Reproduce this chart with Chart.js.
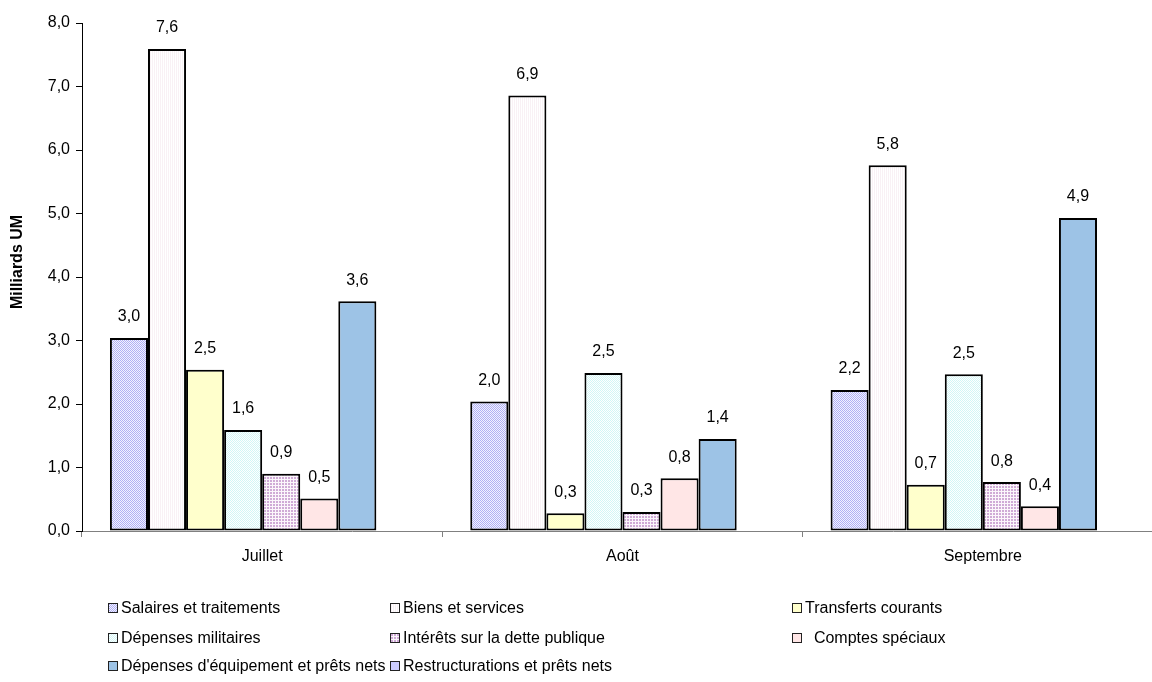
<!DOCTYPE html>
<html>
<head>
<meta charset="utf-8">
<script src="https://cdn.jsdelivr.net/npm/chart.js@4"></script>
<style>
  html, body { margin: 0; padding: 0; background: #fff; overflow: hidden; }
  #wrap { position: relative; width: 1152px; height: 682px; overflow: hidden; }
  #chart { position: absolute; left: 0; top: 0; }
  .lg-item { position: absolute; display: flex; align-items: center; font: 16px "Liberation Sans", Arial, sans-serif; color: #000; white-space: pre; }
  .lg-box { width: 8px; height: 8px; border: 1.5px solid #222; margin-right: 3px; }
</style>
</head>
<body>
<div id="wrap">
  <canvas id="chart" width="1163" height="682"></canvas>
  <div id="legend"></div>
</div>
<script>
const categories = ['Juillet', 'Août', 'Septembre'];
const salaires = [3.04, 2.04, 2.22];
const biens = [7.59, 6.86, 5.76];
const transferts = [2.54, 0.28, 0.73];
const militaires = [1.59, 2.49, 2.47];
const interets = [0.9, 0.3, 0.77];
const comptes = [0.51, 0.83, 0.39];
const equipement = [3.62, 1.45, 4.93];
const restructurations = [null, null, null];

const legendCols = [108, 390, 792];
const legendRows = [609, 639, 667];
const FONT = '"Liberation Sans", Arial, sans-serif';

function makePattern(size, draw) {
  const c = document.createElement('canvas');
  c.width = size; c.height = size;
  const g = c.getContext('2d');
  draw(g);
  return c;
}

const tiles = {
  salaires: makePattern(2, g => {
    g.fillStyle = '#f2f2ff'; g.fillRect(0, 0, 2, 2);
    g.fillStyle = '#b0b0f4'; g.fillRect(0, 0, 1, 1); g.fillRect(1, 1, 1, 1);
  }),
  biens: makePattern(2, g => {
    g.fillStyle = '#ffffff'; g.fillRect(0, 0, 2, 2);
    g.fillStyle = '#f9f1f5'; g.fillRect(0, 0, 1, 2);
  }),
  militaires: makePattern(2, g => {
    g.fillStyle = '#ffffff'; g.fillRect(0, 0, 2, 2);
    g.fillStyle = '#d2f6f6'; g.fillRect(0, 0, 1, 1); g.fillRect(1, 1, 1, 1);
  }),
  interets: makePattern(3, g => {
    g.fillStyle = '#fbf6fb'; g.fillRect(0, 0, 3, 3);
    g.fillStyle = '#cfaad6'; g.fillRect(0, 0, 2, 2);
  })
};

const ctx = document.getElementById('chart').getContext('2d');
const pat = key => ctx.createPattern(tiles[key], 'repeat');

const datasets = [
  { label: 'Salaires et traitements', data: salaires, backgroundColor: pat('salaires'), swatch: tiles.salaires },
  { label: 'Biens et services', data: biens, backgroundColor: pat('biens'), swatch: tiles.biens },
  { label: 'Transferts courants', data: transferts, backgroundColor: '#ffffcc' },
  { label: 'Dépenses militaires', data: militaires, backgroundColor: pat('militaires'), swatch: tiles.militaires },
  { label: 'Intérêts sur la dette publique', data: interets, backgroundColor: pat('interets'), swatch: tiles.interets },
  { label: '  Comptes spéciaux', data: comptes, backgroundColor: '#ffe6e6' },
  { label: "Dépenses d'équipement et prêts nets", data: equipement, backgroundColor: '#9dc3e6' },
  { label: 'Restructurations et prêts nets', data: restructurations, backgroundColor: '#ccccff' }
].map(d => Object.assign(d, { borderColor: '#000', borderWidth: 2, borderSkipped: false }));

// value labels above bars + y axis title
const valueLabels = {
  id: 'valueLabels',
  afterDatasetsDraw(chart) {
    const c = chart.ctx;
    c.save();
    c.font = '16px ' + FONT;
    c.fillStyle = '#000';
    c.textAlign = 'center';
    c.textBaseline = 'middle';
    chart.data.datasets.forEach((ds, i) => {
      chart.getDatasetMeta(i).data.forEach((bar, j) => {
        const v = ds.data[j];
        if (v == null) return;
        c.fillText(v.toFixed(1).replace('.', ','), bar.x, bar.y - 21);
      });
    });
    c.translate(18, 262);
    c.rotate(-Math.PI / 2);
    c.font = 'bold 16px ' + FONT;
    c.fillText('Milliards UM', 0, 0);
    c.restore();
  }
};

const chart = new Chart(ctx, {
  type: 'bar',
  data: { labels: categories, datasets: datasets },
  options: {
    responsive: false,
    animation: false,
    devicePixelRatio: 1,
    layout: { padding: { top: 23, right: 0, left: 0, bottom: 0 } },
    datasets: { bar: { categoryPercentage: 0.845, barPercentage: 1 } },
    plugins: { legend: { display: false }, tooltip: { enabled: false } },
    scales: {
      x: {
        grid: { offset: true, drawOnChartArea: false, drawTicks: true, tickLength: 6, color: '#808080' },
        border: { color: '#808080', width: 1 },
        ticks: { color: '#000', padding: 10, font: { family: FONT, size: 16 } },
        afterFit(s) { s.height = 151; }
      },
      y: {
        min: 0, max: 8,
        ticks: {
          stepSize: 1, color: '#000', padding: 6,
          font: { family: FONT, size: 16 },
          callback: v => v.toFixed(1).replace('.', ',')
        },
        grid: { drawOnChartArea: false, drawTicks: true, tickLength: 6, color: '#000' },
        border: { color: '#000', width: 1 },
        afterFit(s) { s.width = 82; }
      }
    }
  },
  plugins: [valueLabels]
});

// html legend built from the chart datasets
const legend = document.getElementById('legend');
chart.data.datasets.forEach((ds, i) => {
  const item = document.createElement('div');
  item.className = 'lg-item';
  item.style.left = legendCols[i % 3] + 'px';
  item.style.top = (legendRows[Math.floor(i / 3)] - 10) + 'px';
  const box = document.createElement('span');
  box.className = 'lg-box';
  if (ds.swatch) box.style.backgroundImage = 'url(' + ds.swatch.toDataURL() + ')';
  else box.style.background = ds.backgroundColor;
  const txt = document.createElement('span');
  txt.textContent = ds.label;
  item.appendChild(box);
  item.appendChild(txt);
  legend.appendChild(item);
});
</script>
</body>
</html>
